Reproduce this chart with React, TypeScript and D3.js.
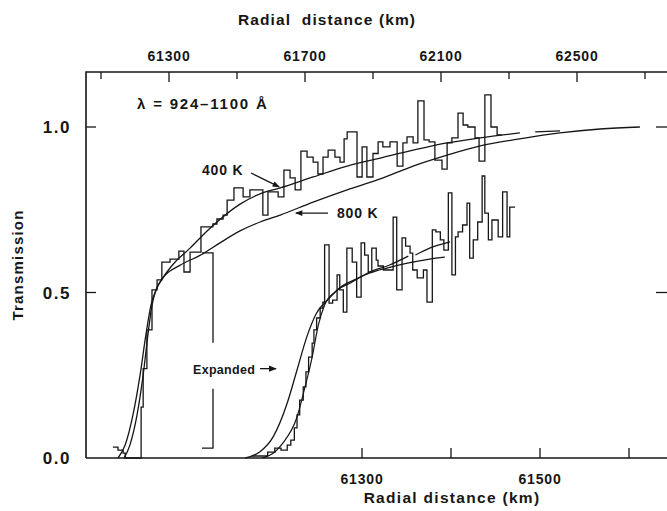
import React from "react";
import * as d3 from "d3";

// frame / tick data
const topMajorTicks = [61300, 61700, 62100, 62500];
const topMinorTicks = [61100, 61500, 61900, 62300, 62700];
const bottomTicks = [61300, 61400, 61500, 61600];
const bottomTickLabels = [61300, 61500];
const yTicks = [0, 0.5, 1.0];
const yTickLabels = ["0.0", "0.5", "1.0"];

// full occultation profile (upper histogram, top axis km)
const upperEdges = [
  61135, 61150, 61165, 61171, 61218, 61224, 61235, 61250, 61265, 61279, 61303, 61329,
  61344, 61362, 61394, 61429, 61441, 61459, 61471, 61491, 61518, 61538, 61576, 61591,
  61621, 61638, 61656, 61671, 61688, 61706, 61724, 61738, 61753, 61768, 61788, 61803,
  61815, 61824, 61853, 61868, 61882, 61900, 61915, 61929, 61950, 61971, 61988, 62000,
  62018, 62032, 62050, 62065, 62082, 62103, 62118, 62132, 62150, 62165, 62179, 62200,
  62212, 62229, 62247, 62265,
];
const upperValues = [
  0.033, 0.024, 0.015, 0.0, 0.154, 0.27, 0.387, 0.508, 0.538, 0.592, 0.601, 0.625,
  0.562, 0.622, 0.698, 0.707, 0.722, 0.734, 0.779, 0.816, 0.789, 0.81, 0.734, 0.804,
  0.789, 0.87, 0.846, 0.81, 0.927, 0.909, 0.894, 0.858, 0.909, 0.93, 0.909, 0.894,
  0.964, 0.985, 0.849, 0.94, 0.849, 0.92, 0.955, 0.94, 0.955, 0.882, 0.952, 0.97,
  0.952, 1.079, 0.961, 0.955, 0.9, 0.873, 0.952, 0.967, 1.042, 1.006, 1.0, 0.967,
  0.897, 1.097, 1.0, 0.976,
];
const upperEnd = 62279;

// model curves, top axis
const k400Km = [
  61168, 61185, 61206, 61224, 61238, 61250, 61262, 61282, 61318, 61362, 61406, 61441,
  61509, 61568, 61627, 61724, 61824, 61921, 62018, 62118, 62215, 62332,
];
const k400Val = [
  0, 0.039, 0.13, 0.251, 0.372, 0.462, 0.508, 0.544, 0.592, 0.634, 0.68, 0.713,
  0.767, 0.798, 0.816, 0.849, 0.882, 0.906, 0.93, 0.952, 0.967, 0.982,
];
const k400DashKm = [62377, 62450];
const k400DashVal = [0.985, 0.988];

const k800Km = [
  61150, 61171, 61194, 61215, 61232, 61247, 61262, 61282, 61332, 61391, 61450, 61509,
  61568, 61627, 61724, 61824, 61921, 62018, 62118, 62215, 62332, 62450, 62568, 62685,
];
const k800Val = [
  0, 0.039, 0.13, 0.251, 0.372, 0.462, 0.508, 0.544, 0.582, 0.612, 0.65, 0.686,
  0.713, 0.734, 0.773, 0.81, 0.843, 0.882, 0.915, 0.943, 0.964, 0.982, 0.994, 1.0,
];

// expanded profile (lower histogram, bottom axis km)
const lowerEdges = [
  61176, 61194, 61202, 61209, 61216, 61220, 61224, 61227, 61230, 61234, 61237, 61240,
  61244, 61246, 61249, 61253, 61256, 61258, 61263, 61267, 61272, 61275, 61279, 61283,
  61289, 61294, 61299, 61303, 61307, 61311, 61316, 61318, 61324, 61335, 61339, 61345,
  61349, 61354, 61357, 61362, 61369, 61373, 61379, 61383, 61388, 61392, 61397, 61401,
  61405, 61408, 61413, 61418, 61421, 61425, 61430, 61435, 61438, 61442, 61446, 61453,
  61458, 61463, 61466,
];
const lowerValues = [
  0.006, 0.018, 0.03, 0.024, 0.039, 0.054, 0.091, 0.13, 0.175, 0.215, 0.26, 0.305,
  0.347, 0.387, 0.423, 0.453, 0.471, 0.644, 0.468, 0.477, 0.553, 0.508, 0.441, 0.634,
  0.592, 0.486, 0.65, 0.613, 0.562, 0.634, 0.598, 0.58, 0.568, 0.728, 0.508, 0.665,
  0.64, 0.619, 0.568, 0.544, 0.568, 0.471, 0.689, 0.683, 0.659, 0.628, 0.801, 0.553,
  0.668, 0.683, 0.704, 0.77, 0.604, 0.659, 0.713, 0.852, 0.74, 0.659, 0.719, 0.668,
  0.804, 0.668, 0.758,
];
const lowerEnd = 61472;

const lowAKm = [
  61169, 61185, 61200, 61216, 61227, 61238, 61249, 61261, 61275, 61294, 61309, 61328,
  61351, 61376, 61393,
];
const lowAVal = [
  0, 0.018, 0.063, 0.166, 0.266, 0.366, 0.438, 0.477, 0.514, 0.541, 0.559, 0.574,
  0.589, 0.601, 0.607,
];
const lowBKm = [
  61188, 61202, 61211, 61227, 61236, 61244, 61251, 61258, 61270, 61287, 61309, 61331,
  61352, 61356, 61360, 61376, 61399,
];
const lowBVal = [
  0, 0.018, 0.045, 0.124, 0.215, 0.305, 0.402, 0.462, 0.502, 0.529, 0.562, 0.583,
  0.61, null, 0.613, 0.634, 0.653,
];

const INK = "#161616";
const FONT = "'Liberation Sans', Arial, sans-serif";

export default function App() {
  const width = 667;
  const height = 511;
  const left = 86;
  const right = 667;
  const top = 72;
  const bottom = 458;

  const xTop = d3.scaleLinear().domain([61300, 62500]).range([169, 577]);
  const xBot = d3.scaleLinear().domain([61300, 61500]).range([362, 540]);
  const y = d3.scaleLinear().domain([0, 1]).range([bottom, 127]);

  const stepLine = (xs) =>
    d3.line().x((d) => xs(d[0])).y((d) => y(d[1])).curve(d3.curveStepAfter);
  const smooth = (xs) =>
    d3
      .line()
      .defined((d) => d[1] != null)
      .x((d) => xs(d[0]))
      .y((d) => y(d[1]))
      .curve(d3.curveMonotoneX);

  const upperPts = upperEdges.map((e, i) => [e, upperValues[i]]);
  upperPts.push([upperEnd, upperValues[upperValues.length - 1]]);
  const lowerPts = lowerEdges.map((e, i) => [e, lowerValues[i]]);
  lowerPts.push([lowerEnd, lowerValues[lowerValues.length - 1]]);

  const k400 = k400Km.map((k, i) => [k, k400Val[i]]);
  const k400d = k400DashKm.map((k, i) => [k, k400DashVal[i]]);
  const k800 = k800Km.map((k, i) => [k, k800Val[i]]);
  const lowA = lowAKm.map((k, i) => [k, lowAVal[i]]);
  const lowB = lowBKm.map((k, i) => [k, lowBVal[i]]);

  // bracket for expanded range
  const brX = 213;
  const brTop = y(0.62);
  const brBot = y(0.03);
  const labelY = y(0.27);

  // annotation arrows
  const a400 = [xTop(61627), y(0.816)];
  const a800 = [xTop(61673), y(0.74)];

  return (
    <svg
      width={width}
      height={height}
      style={{ position: "absolute", left: 0, top: 0, background: "#fff" }}
      fontFamily={FONT}
    >
      <defs>
        <marker id="ah" viewBox="0 0 10 10" refX="9" refY="5" markerWidth="7" markerHeight="6" orient="auto">
          <path d="M0,1 L10,5 L0,9 z" fill={INK} />
        </marker>
      </defs>
      <rect width={width} height={height} fill="#fff" />

      {/* frame */}
      <path d={`M${left},${bottom} V${top} H${right}`} fill="none" stroke={INK} strokeWidth={1.6} />
      <line x1={left} x2={right} y1={bottom} y2={bottom} stroke={INK} strokeWidth={1.6} />

      {/* top axis */}
      {topMajorTicks.map((t) => (
        <g key={"tM" + t}>
          <line x1={xTop(t)} x2={xTop(t)} y1={top} y2={top + 10} stroke={INK} strokeWidth={1.3} />
          <text x={xTop(t)} y={61} textAnchor="middle" fontSize={14} fontWeight="bold" letterSpacing={0.8} fill={INK}>
            {t}
          </text>
        </g>
      ))}
      {topMinorTicks.map((t) => (
        <line key={"tm" + t} x1={xTop(t)} x2={xTop(t)} y1={top} y2={top + 7} stroke={INK} strokeWidth={1.3} />
      ))}
      <text x={327} y={25} textAnchor="middle" fontSize={15.5} fontWeight="bold" letterSpacing={1.1} fill={INK} xmlSpace="preserve">
        Radial  distance (km)
      </text>

      {/* bottom axis */}
      {bottomTicks.map((t) => (
        <line key={"b" + t} x1={xBot(t)} x2={xBot(t)} y1={bottom} y2={bottom - 10} stroke={INK} strokeWidth={1.3} />
      ))}
      {bottomTickLabels.map((t) => (
        <text key={"bl" + t} x={xBot(t)} y={484} textAnchor="middle" fontSize={14} fontWeight="bold" letterSpacing={0.8} fill={INK}>
          {t}
        </text>
      ))}
      <text x={452} y={503} textAnchor="middle" fontSize={15.5} fontWeight="bold" letterSpacing={1.3} fill={INK}>
        Radial distance (km)
      </text>

      {/* y axis */}
      {yTicks.map((t, i) => (
        <g key={"y" + t}>
          {t > 0 && (
            <>
              <line x1={left} x2={left + 10} y1={y(t)} y2={y(t)} stroke={INK} strokeWidth={1.3} />
              <line x1={right - 11} x2={right} y1={y(t)} y2={y(t)} stroke={INK} strokeWidth={1.3} />
            </>
          )}
          <text x={71} y={y(t) + 6} textAnchor="end" fontSize={17} fontWeight="bold" letterSpacing={1.5} fill={INK}>
            {yTickLabels[i]}
          </text>
        </g>
      ))}
      <text
        transform={`translate(23,265) rotate(-90)`}
        textAnchor="middle"
        fontSize={15}
        fontWeight="bold"
        letterSpacing={1.2}
        fill={INK}
      >
        Transmission
      </text>

      {/* data */}
      <g fill="none" stroke={INK} strokeLinejoin="miter">
        <path d={stepLine(xTop)(upperPts)} strokeWidth={1.3} />
        <path d={smooth(xTop)(k400)} strokeWidth={1.3} />
        <path d={smooth(xTop)(k400d)} strokeWidth={1.3} />
        <path d={smooth(xTop)(k800)} strokeWidth={1.3} />
        <path d={stepLine(xBot)(lowerPts)} strokeWidth={1.3} />
        <path d={smooth(xBot)(lowA)} strokeWidth={1.3} />
        <path d={smooth(xBot)(lowB)} strokeWidth={1.2} />
      </g>

      {/* expanded bracket */}
      <path
        d={`M${brX - 11},${brTop} H${brX} V${labelY - 26} M${brX},${labelY + 20} V${brBot} H${brX - 11}`}
        fill="none"
        stroke={INK}
        strokeWidth={1.3}
      />
      <text x={193} y={labelY + 5} fontSize={12.5} fontWeight="bold" letterSpacing={0.3} fill={INK}>
        Expanded
      </text>
      <line x1={260} x2={276} y1={labelY} y2={labelY} stroke={INK} strokeWidth={1.3} markerEnd="url(#ah)" />

      {/* annotations */}
      <text x={xTop(61206)} y={y(1.07) + 5} fontSize={15} fontWeight="bold" letterSpacing={1.8} fill={INK} xmlSpace="preserve">
        λ = 924–1100 Å
      </text>
      <text x={202} y={175} fontSize={14} fontWeight="bold" letterSpacing={0.8} fill={INK}>
        400 K
      </text>
      <line x1={251} x2={a400[0] - 1} y1={173} y2={a400[1] - 1} stroke={INK} strokeWidth={1.2} markerEnd="url(#ah)" />
      <text x={337} y={218} fontSize={14} fontWeight="bold" letterSpacing={0.8} fill={INK}>
        800 K
      </text>
      <line x1={328} x2={a800[0]} y1={a800[1]} y2={a800[1]} stroke={INK} strokeWidth={1.2} markerEnd="url(#ah)" />
    </svg>
  );
}
